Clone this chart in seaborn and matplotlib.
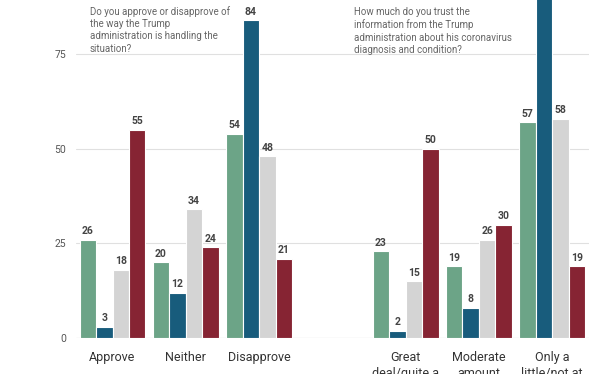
import matplotlib
matplotlib.use("Agg")
import matplotlib.pyplot as plt
import seaborn as sns
import pandas as pd
import numpy as np

# categories (blank slot separates the two questions)
categories = ["Approve", "Neither", "Disapprove", " ",
              "Great deal/quite a lot", "Moderate amount", "Only a little/not at all"]
tick_labels = ["Approve", "Neither", "Disapprove", "",
               "Great\ndeal/quite a\nlot", "Moderate\namount", "Only a\nlittle/not at\nall"]
groups = ["Total", "Democrats", "Independents", "Republicans"]

total = [26, 20, 54, None, 23, 19, 57]
democrats = [3, 12, 84, None, 2, 8, 91]
independents = [18, 34, 48, None, 15, 26, 58]
republicans = [55, 24, 21, None, 50, 30, 19]

palette = ["#6ca487", "#185c7c", "#d4d4d4", "#862433"]

q1 = "Do you approve or disapprove of\nthe way the Trump\nadministration is handling the\nsituation?"
q2 = "How much do you trust the\ninformation from the Trump\nadministration about his coronavirus\ndiagnosis and condition?"

rows = []
for g, vals in zip(groups, [total, democrats, independents, republicans]):
    for c, v in zip(categories, vals):
        if v is not None:
            rows.append({"category": c, "group": g, "value": v})
df = pd.DataFrame(rows)

sns.set_style("white")
plt.rcParams['font.family'] = ['Roboto', 'DejaVu Sans']

fig = plt.figure(figsize=(6.12, 3.74), dpi=100)
ax = fig.add_axes([0.124, 0.096, 0.838, 0.904])

sns.barplot(data=df, x="category", y="value", hue="group", order=categories,
            hue_order=groups, palette=palette, width=0.9, edgecolor="white",
            linewidth=0.8, saturation=1, legend=False, ax=ax)

for cont in ax.containers:
    labels = []
    for bar in cont:
        h = bar.get_height()
        labels.append(f"{h:.0f}" if np.isfinite(h) and h > 0 else "")
    ax.bar_label(cont, labels=labels, padding=2.5, fontsize=7.5,
                 fontweight="bold", color="#444444")

ax.set_ylim(0, 89.3)
ax.set_xlim(-0.5, 6.5)
ax.set_yticks([0, 25, 50, 75])
ax.set_xticks(range(len(categories)))
ax.set_xticklabels(tick_labels, fontsize=9, color="#333333", linespacing=1.3)
ax.tick_params(axis="y", length=0, pad=7, labelsize=7.5, labelcolor="#555555")
ax.tick_params(axis="x", length=0, pad=9)
ax.set_xlabel("")
ax.set_ylabel("")
ax.yaxis.grid(True, color="#e0e0e0", linewidth=0.8)
ax.set_axisbelow(True)
sns.despine(ax=ax, left=True, bottom=True)
ax.axhline(0, color="#cccccc", linewidth=0.8, zorder=0)

ax.text(-0.31, 87.8, q1, fontsize=7, color="#666666", va="top", ha="left",
        linespacing=1.3)
ax.text(3.30, 87.5, q2, fontsize=7, color="#666666", va="top", ha="left",
        linespacing=1.3)

fig.savefig("out.png", dpi=100)
